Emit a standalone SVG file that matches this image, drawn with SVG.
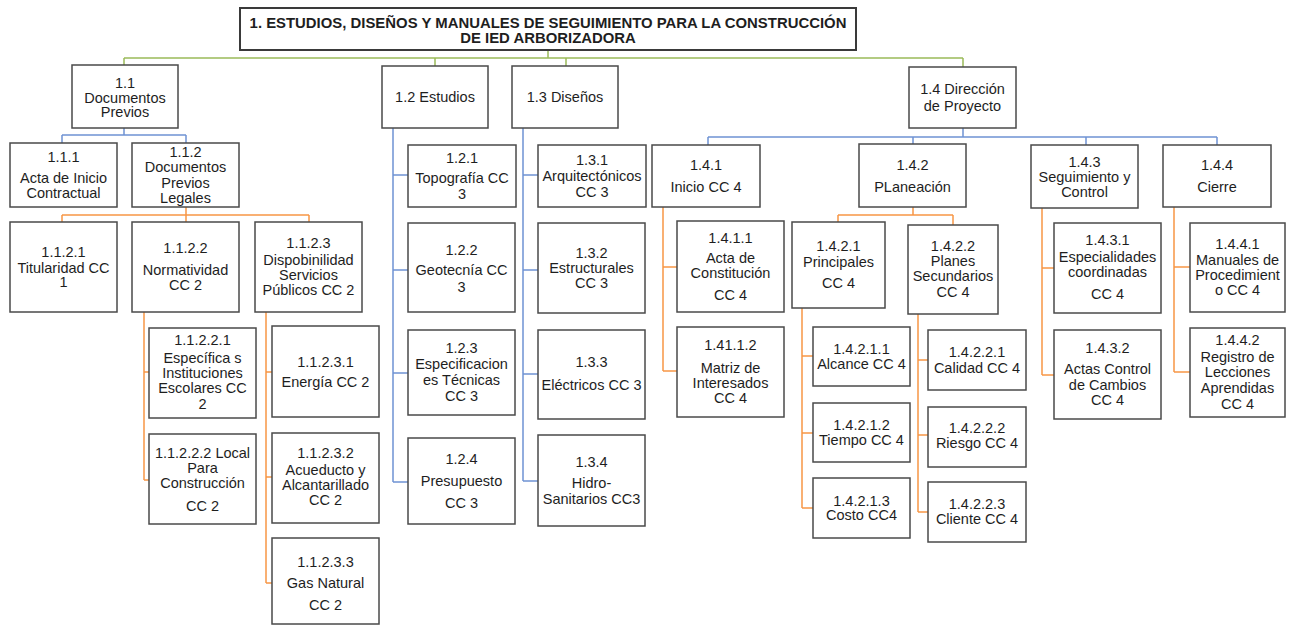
<svg xmlns="http://www.w3.org/2000/svg" width="1294" height="625" viewBox="0 0 1294 625">
<style>
.box{fill:#fff;stroke:#4a4a4a;stroke-width:1.5}
.root{fill:#fff;stroke:#3a3a3a;stroke-width:2}
text{font-family:"Liberation Sans",Arial,sans-serif;font-size:14.5px;fill:#1e1e1e;text-anchor:middle;dominant-baseline:central}
.bold{font-weight:bold;font-size:14.9px}
.c{fill:none;stroke-width:1.5}
.g{stroke:#9BBB59}
.b{stroke:#6F93D3}
.o{stroke:#F79646}
</style>
<rect width="1294" height="625" fill="#fff"/>
<g id="connectors">
<path class="c g" d="M548,50V58M124,58H963M124,58V65M435,58V66M566,58V66M963,58V67"/>
<path class="c b" d="M124,128V135M62,135H186M62,135V143M186,135V143"/>
<path class="c o" d="M186,207V215M62,215H309M62,215V222M186,215V222M309,215V222"/>
<path class="c o" d="M144,312V480M144,372H149M144,480H149"/>
<path class="c o" d="M266,312V583M266,372H272M266,477H272M266,583H272"/>
<path class="c b" d="M393,128V482M393,175H408M393,270H408M393,373H408M393,482H408"/>
<path class="c b" d="M523,128V481M523,175H538M523,270H538M523,374H538M523,481H538"/>
<path class="c b" d="M963,128V137M708,137H1217M708,137V145M913,137V144M1086,137V145M1217,137V145"/>
<path class="c o" d="M663,207V371M663,267H677M663,371H677"/>
<path class="c o" d="M913,207V215M838,215H953M838,215V222M953,215V225"/>
<path class="c o" d="M802,308V508M802,356H813M802,433H813M802,508H813"/>
<path class="c o" d="M918,314V512M918,360H928M918,435H928M918,512H928"/>
<path class="c o" d="M1042,208V375M1042,268H1054M1042,375H1054"/>
<path class="c o" d="M1174,207V372M1174,267H1190M1174,372H1190"/>
</g>
<g id="n1"><rect class="root" x="240" y="8" width="616" height="42"/><text class="bold"><tspan x="548" y="23">1. ESTUDIOS, DISEÑOS Y MANUALES DE SEGUIMIENTO PARA LA CONSTRUCCIÓN</tspan><tspan x="548" y="38">DE IED ARBORIZADORA</tspan></text></g>
<g id="n1_1"><rect class="box" x="72" y="65" width="106" height="63"/><text><tspan x="125" y="83">1.1</tspan><tspan x="125" y="98">Documentos</tspan><tspan x="125" y="112">Previos</tspan></text></g>
<g id="n1_1_1"><rect class="box" x="10" y="143" width="107" height="64"/><text><tspan x="63.5" y="157">1.1.1</tspan><tspan x="63.5" y="178">Acta de Inicio</tspan><tspan x="63.5" y="193">Contractual</tspan></text></g>
<g id="n1_1_2"><rect class="box" x="132" y="143" width="107" height="64"/><text><tspan x="185.5" y="152">1.1.2</tspan><tspan x="185.5" y="167">Documentos</tspan><tspan x="185.5" y="183">Previos</tspan><tspan x="185.5" y="198">Legales</tspan></text></g>
<g id="n1_1_2_1"><rect class="box" x="10" y="222" width="107" height="90"/><text><tspan x="63.5" y="252">1.1.2.1</tspan><tspan x="63.5" y="268">Titularidad CC</tspan><tspan x="63.5" y="282">1</tspan></text></g>
<g id="n1_1_2_2"><rect class="box" x="132" y="222" width="107" height="90"/><text><tspan x="185.5" y="248">1.1.2.2</tspan><tspan x="185.5" y="270">Normatividad</tspan><tspan x="185.5" y="285">CC 2</tspan></text></g>
<g id="n1_1_2_3"><rect class="box" x="255" y="222" width="107" height="90"/><text><tspan x="308.5" y="243">1.1.2.3</tspan><tspan x="308.5" y="260">Dispobinilidad</tspan><tspan x="308.5" y="275">Servicios</tspan><tspan x="308.5" y="290">Públicos CC 2</tspan></text></g>
<g id="n1_1_2_2_1"><rect class="box" x="149" y="328" width="107" height="90"/><text><tspan x="202.5" y="340">1.1.2.2.1</tspan><tspan x="202.5" y="358">Específica s</tspan><tspan x="202.5" y="373">Instituciones</tspan><tspan x="202.5" y="388">Escolares CC</tspan><tspan x="202.5" y="404">2</tspan></text></g>
<g id="n1_1_2_2_2"><rect class="box" x="149" y="434" width="107" height="90"/><text><tspan x="202.5" y="453">1.1.2.2.2 Local</tspan><tspan x="202.5" y="468">Para</tspan><tspan x="202.5" y="483">Construcción</tspan><tspan x="202.5" y="506">CC 2</tspan></text></g>
<g id="n1_1_2_3_1"><rect class="box" x="272" y="326" width="107" height="91"/><text><tspan x="325.5" y="362">1.1.2.3.1</tspan><tspan x="325.5" y="382">Energía CC 2</tspan></text></g>
<g id="n1_1_2_3_2"><rect class="box" x="272" y="433" width="107" height="90"/><text><tspan x="325.5" y="453">1.1.2.3.2</tspan><tspan x="325.5" y="470">Acueducto y</tspan><tspan x="325.5" y="485">Alcantarillado</tspan><tspan x="325.5" y="500">CC 2</tspan></text></g>
<g id="n1_1_2_3_3"><rect class="box" x="272" y="538" width="107" height="86"/><text><tspan x="325.5" y="562">1.1.2.3.3</tspan><tspan x="325.5" y="583">Gas Natural</tspan><tspan x="325.5" y="605">CC 2</tspan></text></g>
<g id="n1_2"><rect class="box" x="382" y="66" width="106" height="62"/><text x="435" y="97">1.2 Estudios</text></g>
<g id="n1_3"><rect class="box" x="512" y="66" width="106" height="62"/><text x="565" y="97">1.3 Diseños</text></g>
<g id="n1_2_1"><rect class="box" x="408" y="145" width="108" height="62"/><text><tspan x="462" y="158">1.2.1</tspan><tspan x="462" y="178">Topografía CC</tspan><tspan x="462" y="194">3</tspan></text></g>
<g id="n1_2_2"><rect class="box" x="408" y="223" width="107" height="89"/><text><tspan x="461.5" y="250">1.2.2</tspan><tspan x="461.5" y="270">Geotecnía CC</tspan><tspan x="461.5" y="287">3</tspan></text></g>
<g id="n1_2_3"><rect class="box" x="408" y="330" width="107" height="85"/><text><tspan x="461.5" y="348">1.2.3</tspan><tspan x="461.5" y="364">Especificacion</tspan><tspan x="461.5" y="380">es Técnicas</tspan><tspan x="461.5" y="396">CC 3</tspan></text></g>
<g id="n1_2_4"><rect class="box" x="408" y="438" width="107" height="86"/><text><tspan x="461.5" y="459">1.2.4</tspan><tspan x="461.5" y="481">Presupuesto</tspan><tspan x="461.5" y="503">CC 3</tspan></text></g>
<g id="n1_3_1"><rect class="box" x="538" y="145" width="108" height="62"/><text><tspan x="592" y="160">1.3.1</tspan><tspan x="592" y="176">Arquitectónicos</tspan><tspan x="592" y="192">CC 3</tspan></text></g>
<g id="n1_3_2"><rect class="box" x="538" y="223" width="107" height="90"/><text><tspan x="591.5" y="253">1.3.2</tspan><tspan x="591.5" y="268">Estructurales</tspan><tspan x="591.5" y="283">CC 3</tspan></text></g>
<g id="n1_3_3"><rect class="box" x="538" y="330" width="107" height="89"/><text><tspan x="591.5" y="362">1.3.3</tspan><tspan x="591.5" y="385">Eléctricos CC 3</tspan></text></g>
<g id="n1_3_4"><rect class="box" x="538" y="435" width="107" height="91"/><text><tspan x="591.5" y="462">1.3.4</tspan><tspan x="591.5" y="483">Hidro-</tspan><tspan x="591.5" y="499">Sanitarios CC3</tspan></text></g>
<g id="n1_4"><rect class="box" x="909" y="67" width="107" height="61"/><text><tspan x="962.5" y="89">1.4 Dirección</tspan><tspan x="962.5" y="106">de Proyecto</tspan></text></g>
<g id="n1_4_1"><rect class="box" x="652" y="145" width="108" height="62"/><text><tspan x="706" y="165">1.4.1</tspan><tspan x="706" y="187">Inicio CC 4</tspan></text></g>
<g id="n1_4_2"><rect class="box" x="859" y="144" width="107" height="63"/><text><tspan x="912.5" y="165">1.4.2</tspan><tspan x="912.5" y="187">PLaneación</tspan></text></g>
<g id="n1_4_3"><rect class="box" x="1031" y="145" width="107" height="63"/><text><tspan x="1084.5" y="162">1.4.3</tspan><tspan x="1084.5" y="177">Seguimiento y</tspan><tspan x="1084.5" y="192">Control</tspan></text></g>
<g id="n1_4_4"><rect class="box" x="1163" y="145" width="108" height="62"/><text><tspan x="1217" y="165">1.4.4</tspan><tspan x="1217" y="187">Cierre</tspan></text></g>
<g id="n1_4_1_1"><rect class="box" x="677" y="221" width="107" height="91"/><text><tspan x="730.5" y="238">1.4.1.1</tspan><tspan x="730.5" y="258">Acta de</tspan><tspan x="730.5" y="273">Constitución</tspan><tspan x="730.5" y="295">CC 4</tspan></text></g>
<g id="n1_4_1_2"><rect class="box" x="677" y="327" width="107" height="90"/><text><tspan x="730.5" y="345">1.41.1.2</tspan><tspan x="730.5" y="368">Matriz de</tspan><tspan x="730.5" y="383">Interesados</tspan><tspan x="730.5" y="398">CC 4</tspan></text></g>
<g id="n1_4_2_1"><rect class="box" x="792" y="222" width="93" height="86"/><text><tspan x="838.5" y="246">1.4.2.1</tspan><tspan x="838.5" y="262">Principales</tspan><tspan x="838.5" y="283">CC 4</tspan></text></g>
<g id="n1_4_2_2"><rect class="box" x="908" y="225" width="90" height="89"/><text><tspan x="953" y="246">1.4.2.2</tspan><tspan x="953" y="261">Planes</tspan><tspan x="953" y="276">Secundarios</tspan><tspan x="953" y="292">CC 4</tspan></text></g>
<g id="n1_4_2_1_1"><rect class="box" x="813" y="327" width="97" height="59"/><text><tspan x="861.5" y="349">1.4.2.1.1</tspan><tspan x="861.5" y="364">Alcance CC 4</tspan></text></g>
<g id="n1_4_2_1_2"><rect class="box" x="813" y="403" width="97" height="59"/><text><tspan x="861.5" y="425">1.4.2.1.2</tspan><tspan x="861.5" y="440">Tiempo CC 4</tspan></text></g>
<g id="n1_4_2_1_3"><rect class="box" x="813" y="478" width="97" height="60"/><text><tspan x="861.5" y="501">1.4.2.1.3</tspan><tspan x="861.5" y="515">Costo CC4</tspan></text></g>
<g id="n1_4_2_2_1"><rect class="box" x="928" y="330" width="98" height="60"/><text><tspan x="977" y="352">1.4.2.2.1</tspan><tspan x="977" y="368">Calidad CC 4</tspan></text></g>
<g id="n1_4_2_2_2"><rect class="box" x="928" y="407" width="98" height="60"/><text><tspan x="977" y="428">1.4.2.2.2</tspan><tspan x="977" y="443">Riesgo CC 4</tspan></text></g>
<g id="n1_4_2_2_3"><rect class="box" x="928" y="482" width="98" height="60"/><text><tspan x="977" y="504">1.4.2.2.3</tspan><tspan x="977" y="519">Cliente CC 4</tspan></text></g>
<g id="n1_4_3_1"><rect class="box" x="1054" y="223" width="107" height="90"/><text><tspan x="1107.5" y="240">1.4.3.1</tspan><tspan x="1107.5" y="257">Especialidades</tspan><tspan x="1107.5" y="272">coordinadas</tspan><tspan x="1107.5" y="294">CC 4</tspan></text></g>
<g id="n1_4_3_2"><rect class="box" x="1054" y="330" width="107" height="89"/><text><tspan x="1107.5" y="348">1.4.3.2</tspan><tspan x="1107.5" y="369">Actas Control</tspan><tspan x="1107.5" y="385">de Cambios</tspan><tspan x="1107.5" y="400">CC 4</tspan></text></g>
<g id="n1_4_4_1"><rect class="box" x="1190" y="223" width="95" height="89"/><text><tspan x="1237.5" y="244">1.4.4.1</tspan><tspan x="1237.5" y="260">Manuales de</tspan><tspan x="1237.5" y="275">Procedimient</tspan><tspan x="1237.5" y="290">o CC 4</tspan></text></g>
<g id="n1_4_4_2"><rect class="box" x="1190" y="328" width="95" height="89"/><text><tspan x="1237.5" y="340">1.4.4.2</tspan><tspan x="1237.5" y="357">Registro de</tspan><tspan x="1237.5" y="372">Lecciones</tspan><tspan x="1237.5" y="388">Aprendidas</tspan><tspan x="1237.5" y="404">CC 4</tspan></text></g>
</svg>
